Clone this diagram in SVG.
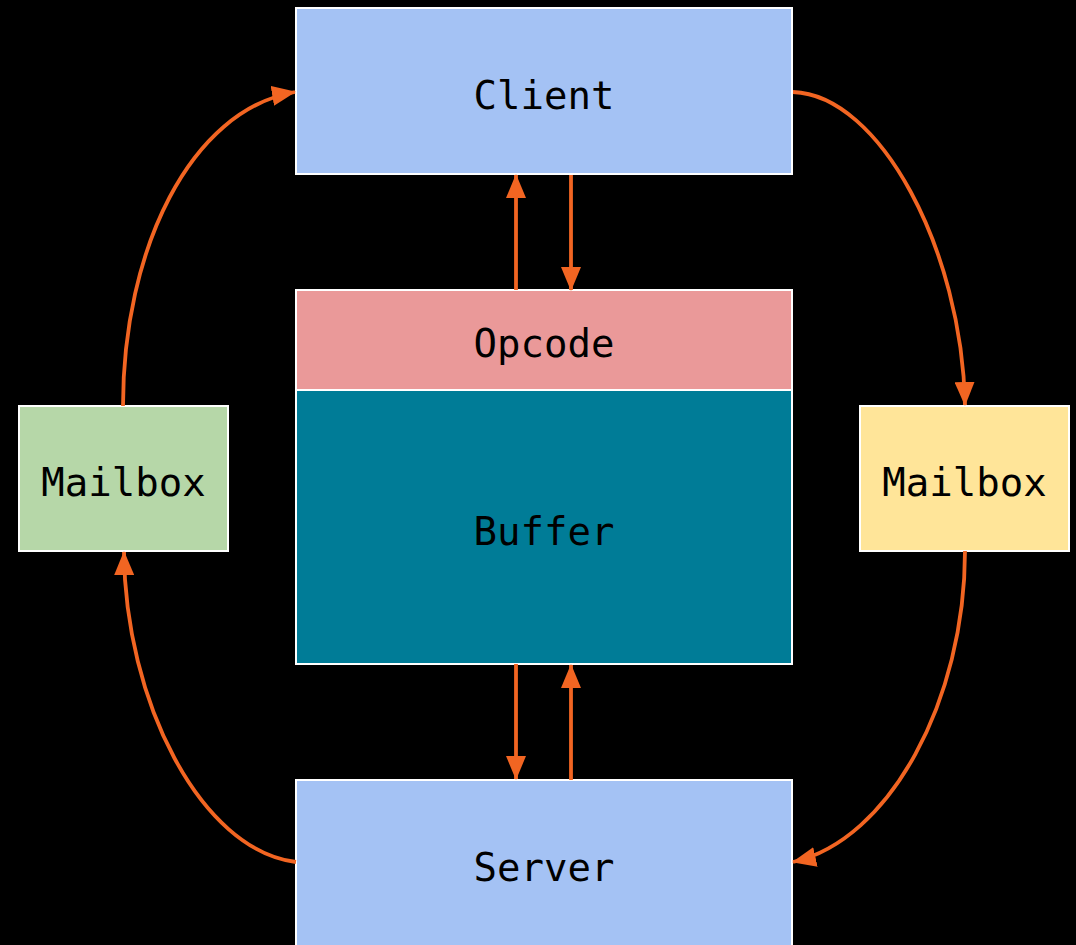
<svg xmlns="http://www.w3.org/2000/svg" width="1076" height="945" viewBox="0 0 1076 945">
  <defs>
    <marker id="arrow" viewBox="0 0 24 20" refX="23" refY="10" markerWidth="24" markerHeight="20" markerUnits="userSpaceOnUse" orient="auto">
      <path d="M0,0 L24,10 L0,20 Z" fill="#f26522"/>
    </marker>
    <style>
      .box { stroke: #ffffff; stroke-width: 2; }
      .label { font-family: "DejaVu Sans Mono", "Liberation Mono", monospace; font-size: 39px; fill: #000000; text-anchor: middle; dominant-baseline: central; }
      .link { fill: none; stroke: #f26522; stroke-width: 3.8; marker-end: url(#arrow); }
    </style>
  </defs>

  <rect x="0" y="0" width="1076" height="945" fill="#000000"/>

  <g id="client">
    <rect class="box" x="296" y="8" width="496" height="166" fill="#a4c2f4"/>
    <text class="label" x="544" y="95">Client</text>
  </g>

  <g id="opcode">
    <rect class="box" x="296" y="290" width="496" height="100" fill="#ea9999"/>
    <text class="label" x="544" y="343">Opcode</text>
  </g>

  <g id="buffer">
    <rect class="box" x="296" y="390" width="496" height="274" fill="#007c97"/>
    <text class="label" x="544" y="531">Buffer</text>
  </g>

  <g id="mailbox-left">
    <rect class="box" x="19" y="406" width="209" height="145" fill="#b6d7a8"/>
    <text class="label" x="123.5" y="482">Mailbox</text>
  </g>

  <g id="mailbox-right">
    <rect class="box" x="860" y="406" width="209" height="145" fill="#ffe599"/>
    <text class="label" x="964.5" y="482">Mailbox</text>
  </g>

  <g id="server">
    <rect class="box" x="296" y="780" width="496" height="175" fill="#a4c2f4"/>
    <text class="label" x="544" y="867">Server</text>
  </g>

  <g id="connectors">
    <!-- client <-> opcode -->
    <path class="link" d="M516,290 L516,175"/>
    <path class="link" d="M571,175 L571,290"/>
    <!-- buffer <-> server -->
    <path class="link" d="M516,664 L516,779"/>
    <path class="link" d="M571,780 L571,665"/>
    <!-- mailbox loop -->
    <path class="link" d="M123,406 C123,250 190,110 295,92"/>
    <path class="link" d="M793,92 C880,95 962,250 965,405"/>
    <path class="link" d="M965,551 C965,700 890,840 793,862"/>
    <path class="link" d="M296,862 C200,850 125,700 124,552"/>
  </g>
</svg>
